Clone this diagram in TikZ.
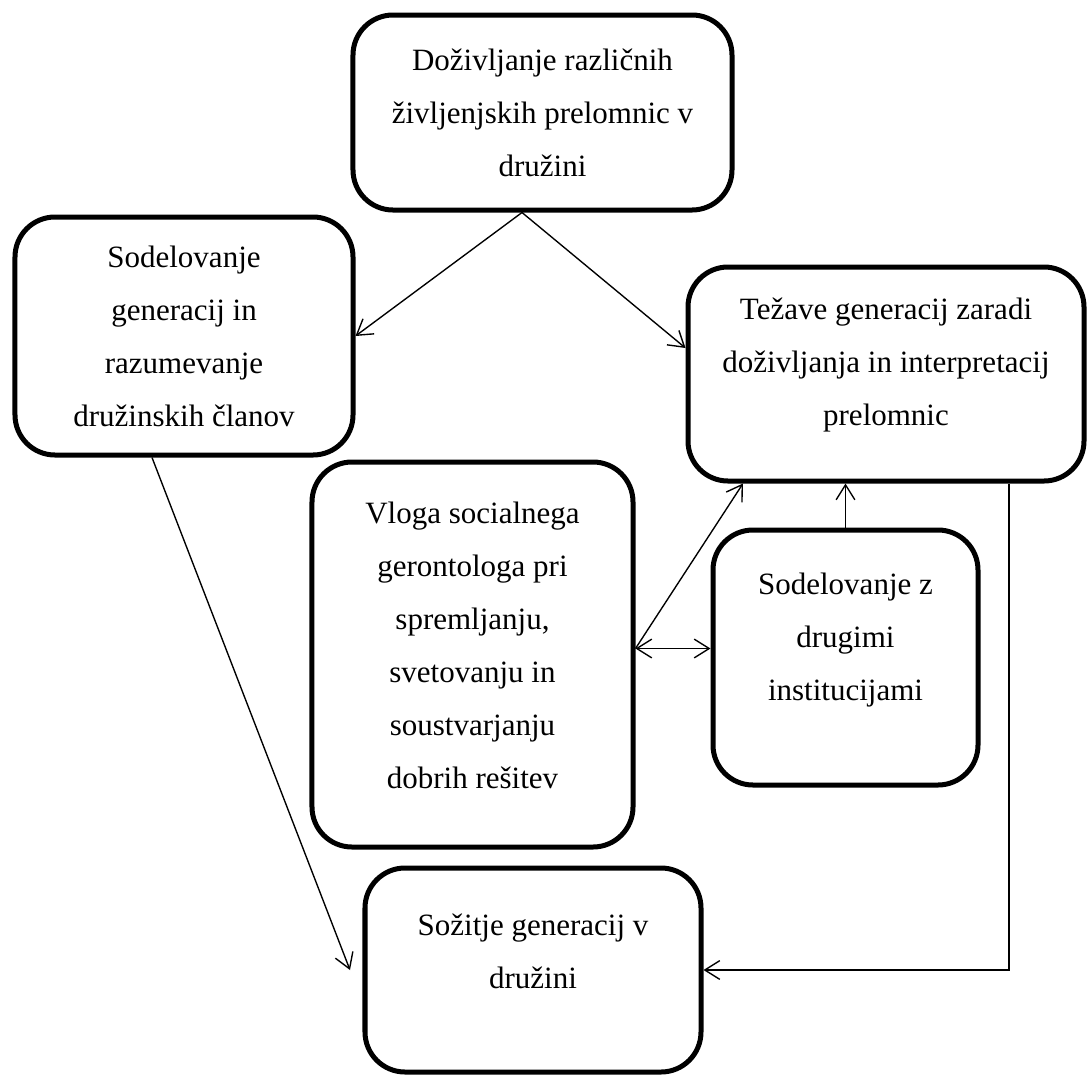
\documentclass[tikz,border=0pt]{standalone}
\usepackage{fontspec}
\setmainfont{Liberation Serif}
\usetikzlibrary{arrows.meta}

\tikzset{
	box/.style={draw, line width=2pt, rounded corners=16pt},
	txt/.style={align=center, font=\fontsize{12.4}{21.2}\selectfont},
	con/.style={line width=0.55pt},
	>={Straight Barb[length=6pt, width=7.5pt]},
}

\begin{document}
\begin{tikzpicture}[x=0.4pt, y=-0.4pt]
	\useasboundingbox (0,0) rectangle (1088,1075);
	% boxes
	\node[box, minimum width=151.6pt, minimum height=78pt] (prelomnice) at (542.5,112.5) {};
	\node[box, minimum width=135.2pt, minimum height=95.2pt] (sodelovanje) at (184,336) {};
	\node[box, minimum width=158.4pt, minimum height=85.6pt] (tezave) at (886,374) {};
	\node[box, minimum width=128.4pt, minimum height=154pt] (vloga) at (472.5,654.5) {};
	\node[box, minimum width=106pt, minimum height=102pt] (institucije) at (845.5,657.5) {};
	\node[box, minimum width=134.4pt, minimum height=81.6pt] (sozitje) at (533,970) {};
	% texts
	\node[txt] (t-prelomnice) at (542.5,112.5) {Doživljanje različnih\\življenjskih prelomnic v\\družini};
	\node[txt] (t-sodelovanje) at (184,336) {Sodelovanje\\generacij in\\razumevanje\\družinskih članov};
	\node[txt] (t-tezave) at (886,365) {Težave generacij zaradi\\doživljanja in interpretacij\\prelomnic};
	\node[txt] (t-vloga) at (472.5,645) {Vloga socialnega\\gerontologa pri\\spremljanju,\\svetovanju in\\soustvarjanju\\dobrih rešitev};
	\node[txt] (t-institucije) at (845.5,640.5) {Sodelovanje z\\drugimi\\institucijami};
	\node[txt] (t-sozitje) at (533,951.5) {Sožitje generacij v\\družini};
	% arrows
	\coordinate (vloga-r) at ([yshift=2.4pt]vloga.east);
	\draw[con, ->] ([xshift=-8.2pt]prelomnice.south) -- (sodelovanje.east);
	\draw[con, ->] ([xshift=-8.2pt]prelomnice.south) -- ([yshift=10.4pt]tezave.west);
	\draw[con, ->] (vloga-r) -- ([xshift=-57.2pt]tezave.south);
	\draw[con, <->] (vloga-r) -- (institucije.west |- vloga-r);
	\draw[con, ->] (institucije.north) -- (institucije.north |- tezave.south);
	\draw[con, ->] ([xshift=-12.8pt]sodelovanje.south) -- ([xshift=-5pt]sozitje.west);
	\draw[con, ->] ([xshift=49.2pt]tezave.south) |- (sozitje.east);
\end{tikzpicture}
\end{document}
